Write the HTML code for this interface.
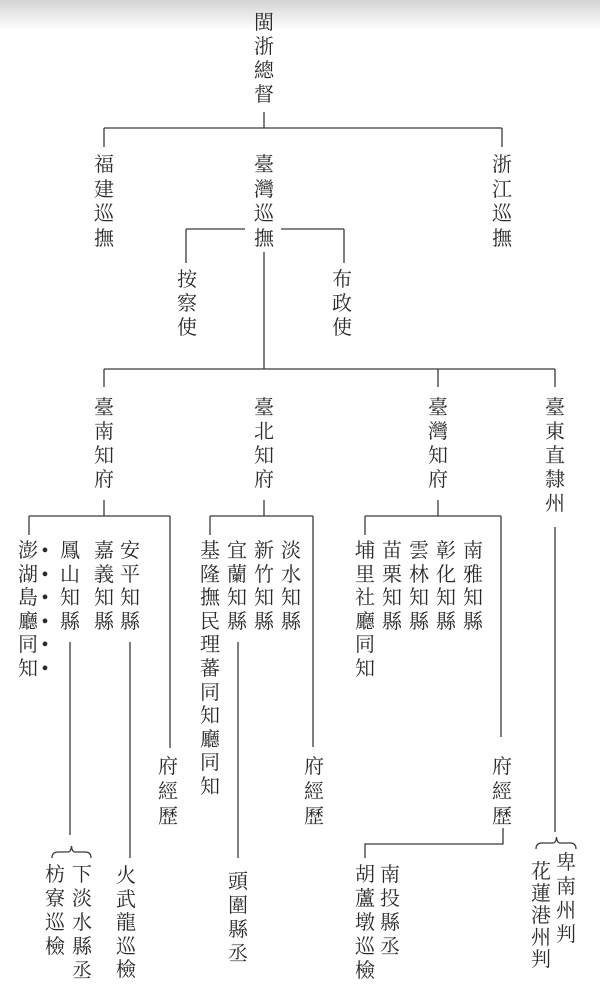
<!DOCTYPE html>
<html><head><meta charset="utf-8"><style>
html,body{margin:0;padding:0;}
body{width:600px;height:988px;position:relative;overflow:hidden;background:#fff;
font-family:"Liberation Serif","Noto Serif CJK SC","Noto Sans CJK TC",serif;color:#2a2a2a;}
.top{position:absolute;left:0;top:0;width:600px;height:30px;background:linear-gradient(#d4d4d4,#fff);}
.c{position:absolute;width:26px;text-align:center;font-size:20px;}
.c span{display:block;}
svg{position:absolute;left:0;top:0;}
</style></head><body>
<div class="top"></div>
<svg width="600" height="988" stroke="#3a3a3a" stroke-width="1.3" fill="none">
<path d="M264 112V128M104 128H502M104 128V147M502 128V147"/>
<path d="M186 229H245M281 229H344M186 229V263M344 229V263"/>
<path d="M264 252V369M104 369H555M104 369V387M438 369V387M555 369V387"/>
<path d="M104 500V516M29 516H170M29 516V535M170 516V748"/>
<path d="M264 500V516M210 516H313M210 516V535M313 516V747"/>
<path d="M438 500V516M365 516H501M365 516V535M501 516V737"/>
<path d="M555 527V832"/>
<path d="M70 642V835M130 642V858M238 642V858"/>
<path d="M503 828V844H365V858"/>
<path d="M52 858Q52 852 58 852H68Q71 852 71.5 846Q72 852 75 852H85Q91 852 91 858"/>
<path d="M536 849Q536 843 542 843H553Q556 843 556.5 837Q557 843 560 843H570Q576 843 576 849"/>
</svg>
<div id="cols"></div>
<!-- columns -->
<div class="c" style="left:251px;top:11px;line-height:24px">閩<br>浙<br>總<br>督</div>
<div class="c" style="left:91px;top:153px;line-height:24.5px">福<br>建<br>巡<br>撫</div>
<div class="c" style="left:251px;top:153px;line-height:24.5px">臺<br>灣<br>巡<br>撫</div>
<div class="c" style="left:489px;top:153px;line-height:24.5px">浙<br>江<br>巡<br>撫</div>
<div class="c" style="left:174px;top:268px;line-height:24px">按<br>察<br>使</div>
<div class="c" style="left:329px;top:268px;line-height:24px">布<br>政<br>使</div>
<div class="c" style="left:91px;top:396px;line-height:24px">臺<br>南<br>知<br>府</div>
<div class="c" style="left:251px;top:396px;line-height:24px">臺<br>北<br>知<br>府</div>
<div class="c" style="left:425px;top:396px;line-height:24px">臺<br>灣<br>知<br>府</div>
<div class="c" style="left:542px;top:396px;line-height:24px">臺<br>東<br>直<br>隸<br>州</div>
<div class="c" style="left:15px;top:540px;line-height:23.6px">澎<br>湖<br>島<br>廳<br>同<br>知</div>
<div class="c" style="left:32px;top:540px;line-height:23.6px">•<br>•<br>•<br>•<br>•<br>•</div>
<div class="c" style="left:57px;top:540px;line-height:23.6px">鳳<br>山<br>知<br>縣</div>
<div class="c" style="left:91px;top:540px;line-height:23.6px">嘉<br>義<br>知<br>縣</div>
<div class="c" style="left:117px;top:540px;line-height:23.6px">安<br>平<br>知<br>縣</div>
<div class="c" style="left:197px;top:540px;line-height:23.6px">基<br>隆<br>撫<br>民<br>理<br>蕃<br>同<br>知<br>廳<br>同<br>知</div>
<div class="c" style="left:224px;top:540px;line-height:23.6px">宜<br>蘭<br>知<br>縣</div>
<div class="c" style="left:251px;top:540px;line-height:23.6px">新<br>竹<br>知<br>縣</div>
<div class="c" style="left:278px;top:540px;line-height:23.6px">淡<br>水<br>知<br>縣</div>
<div class="c" style="left:352px;top:540px;line-height:23.6px">埔<br>里<br>社<br>廳<br>同<br>知</div>
<div class="c" style="left:379px;top:540px;line-height:23.6px">苗<br>栗<br>知<br>縣</div>
<div class="c" style="left:406px;top:540px;line-height:23.6px">雲<br>林<br>知<br>縣</div>
<div class="c" style="left:433px;top:540px;line-height:23.6px">彰<br>化<br>知<br>縣</div>
<div class="c" style="left:460px;top:540px;line-height:23.6px">南<br>雅<br>知<br>縣</div>
<div class="c" style="left:155px;top:755px;line-height:25px">府<br>經<br>歷</div>
<div class="c" style="left:301px;top:755px;line-height:25px">府<br>經<br>歷</div>
<div class="c" style="left:489px;top:755px;line-height:25px">府<br>經<br>歷</div>
<div class="c" style="left:42px;top:863px;line-height:24px">枋<br>寮<br>巡<br>檢</div>
<div class="c" style="left:69px;top:863px;line-height:24px">下<br>淡<br>水<br>縣<br>丞</div>
<div class="c" style="left:113px;top:865px;line-height:23.5px">火<br>武<br>龍<br>巡<br>檢</div>
<div class="c" style="left:225px;top:870px;line-height:24px">頭<br>圍<br>縣<br>丞</div>
<div class="c" style="left:352px;top:863px;line-height:24px">胡<br>蘆<br>墩<br>巡<br>檢</div>
<div class="c" style="left:377px;top:863px;line-height:24px">南<br>投<br>縣<br>丞</div>
<div class="c" style="left:553px;top:851px;line-height:24px">卑<br>南<br>州<br>判</div>
<div class="c" style="left:528px;top:861px;line-height:22px">花<br>蓮<br>港<br>州<br>判</div>
</body></html>
